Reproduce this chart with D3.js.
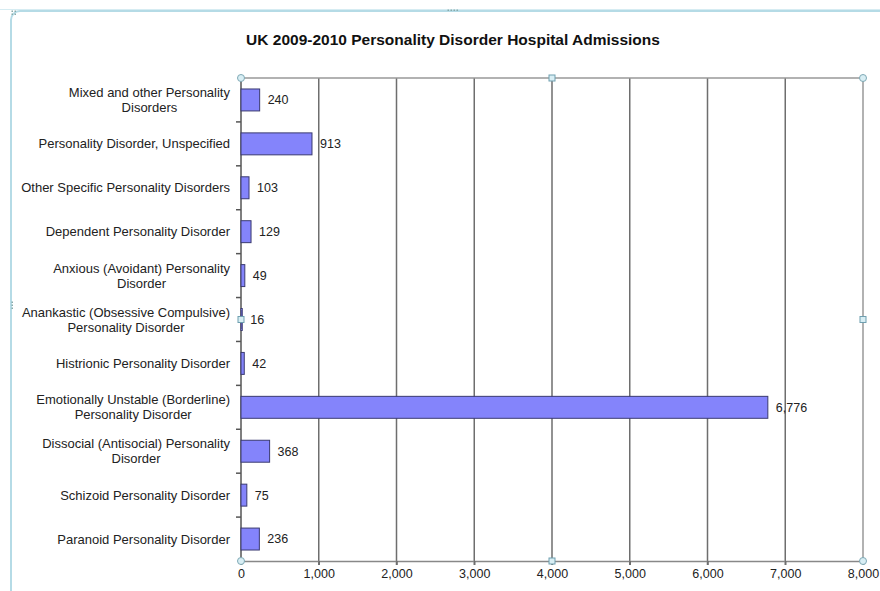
<!DOCTYPE html>
<html>
<head>
<meta charset="utf-8">
<style>
  body { margin: 0; background: #fff; }
  text { font-family: "Liberation Sans", Arial, sans-serif; fill: #222; }
</style>
</head>
<body>
<script src="https://d3js.org/d3.v7.min.js"></script>
<script>
  // data, top to bottom
  const categories = [
    ['Mixed and other Personality', 'Disorders'],
    ['Personality Disorder, Unspecified'],
    ['Other Specific Personality Disorders'],
    ['Dependent Personality Disorder'],
    ['Anxious (Avoidant) Personality', 'Disorder'],
    ['Anankastic (Obsessive Compulsive)', 'Personality Disorder'],
    ['Histrionic Personality Disorder'],
    ['Emotionally Unstable (Borderline)', 'Personality Disorder'],
    ['Dissocial (Antisocial) Personality', 'Disorder'],
    ['Schizoid Personality Disorder'],
    ['Paranoid Personality Disorder']
  ]
  const admissions = [240, 913, 103, 129, 49, 16, 42, 6776, 368, 75, 236]
  const xTicks = [0, 1000, 2000, 3000, 4000, 5000, 6000, 7000, 8000]
  const title = 'UK 2009-2010 Personality Disorder Hospital Admissions'

  const width = 880
  const height = 591
  const plot = { left: 241, right: 863, top: 78, bottom: 561 }

  const svg = d3.select('body').append('svg')
    .attr('width', width)
    .attr('height', height)

  // selection frame around the chart
  svg.append('rect')
    .attr('x', 11).attr('y', 11)
    .attr('width', 900).attr('height', 620)
    .attr('rx', 9)
    .attr('fill', 'none')
    .attr('stroke', '#b5dbe6')
    .attr('stroke-width', 2)
  svg.append('line')
    .attr('x1', 0).attr('x2', width).attr('y1', 9.5).attr('y2', 9.5)
    .attr('stroke', '#d6ecf2')

  const dots = [[12, 11], [15, 11], [12, 14], [15, 14], [448, 10], [451, 10], [454, 10], [457, 10], [12, 302], [12, 305], [12, 308]]
  svg.selectAll('.grip').data(dots).enter().append('rect')
    .attr('x', d => d[0] - 0.5).attr('y', d => d[1] - 0.5)
    .attr('width', 1.5).attr('height', 1.5)
    .attr('fill', '#8aa')

  svg.append('text')
    .attr('x', 453).attr('y', 45)
    .attr('text-anchor', 'middle')
    .attr('font-size', '15.5px')
    .attr('font-weight', 'bold')
    .style('fill', '#111')
    .text(title)

  const x = d3.scaleLinear()
    .domain([0, 8000])
    .range([plot.left, plot.right])

  const y = d3.scaleBand()
    .domain(d3.range(categories.length))
    .range([plot.top, plot.bottom])
    .paddingInner(0.5)
    .paddingOuter(0.25)

  const bandStep = (plot.bottom - plot.top) / categories.length

  // vertical grid lines
  svg.append('g').selectAll('line')
    .data(xTicks.slice(1, -1)).enter().append('line')
    .attr('x1', d => x(d)).attr('x2', d => x(d))
    .attr('y1', plot.top).attr('y2', plot.bottom + 4)
    .attr('stroke', '#6e6e6e')
    .attr('stroke-width', 1.5)

  // frame lines
  svg.append('line')
    .attr('x1', plot.left).attr('x2', plot.right)
    .attr('y1', plot.top).attr('y2', plot.top)
    .attr('stroke', '#999').attr('stroke-width', 1.5)
  svg.append('line')
    .attr('x1', plot.right).attr('x2', plot.right)
    .attr('y1', plot.top).attr('y2', plot.bottom)
    .attr('stroke', '#999').attr('stroke-width', 1.5)

  // x axis
  const xAxis = svg.append('g')
    .attr('transform', `translate(0, ${plot.bottom})`)
    .call(d3.axisBottom(x).tickValues(xTicks).tickFormat(d3.format(',')).tickSize(4).tickPadding(4))
  xAxis.select('.domain').attr('stroke', '#888').attr('stroke-width', 1.5)
  xAxis.selectAll('.tick line').attr('stroke', '#6e6e6e').attr('stroke-width', 1.5)
  xAxis.selectAll('.tick text')
    .attr('font-family', '"Liberation Sans", Arial, sans-serif')
    .attr('font-size', '12.5px')
    .style('fill', '#222')

  // y axis line and ticks between categories
  svg.append('line')
    .attr('x1', plot.left).attr('x2', plot.left)
    .attr('y1', plot.top).attr('y2', plot.bottom)
    .attr('stroke', '#555').attr('stroke-width', 1.5)
  svg.append('g').selectAll('line')
    .data(d3.range(1, categories.length)).enter().append('line')
    .attr('x1', plot.left - 5).attr('x2', plot.left)
    .attr('y1', i => plot.top + i * bandStep)
    .attr('y2', i => plot.top + i * bandStep)
    .attr('stroke', '#555').attr('stroke-width', 1.5)

  // bars
  svg.append('g').selectAll('rect')
    .data(admissions).enter().append('rect')
    .attr('x', x(0))
    .attr('y', (d, i) => y(i))
    .attr('width', d => x(d) - x(0))
    .attr('height', y.bandwidth())
    .attr('fill', '#8484fb')
    .attr('stroke', '#3a3a70')
    .attr('stroke-width', 1)

  // value labels
  svg.append('g').selectAll('text')
    .data(admissions).enter().append('text')
    .attr('x', d => x(d) + 8)
    .attr('y', (d, i) => y(i) + y.bandwidth() / 2)
    .attr('dy', '0.35em')
    .attr('font-size', '12.5px')
    .text(d3.format(','))

  // category labels, block right-aligned, lines centred
  const labelRight = 230
  categories.forEach((lines, i) => {
    const cy = y(i) + y.bandwidth() / 2
    const t = svg.append('text')
      .attr('font-size', '13px')
      .attr('text-anchor', 'middle')
    lines.forEach((ln, j) => {
      t.append('tspan').attr('x', 0)
        .attr('y', cy + (j - (lines.length - 1) / 2) * 15)
        .attr('dy', '0.35em')
        .text(ln)
    })
    const w = d3.max(t.selectAll('tspan').nodes(), n => n.getComputedTextLength())
    t.selectAll('tspan').attr('x', labelRight - w / 2)
  })

  // selection handles
  const corners = [[plot.left, plot.top], [plot.right, plot.top], [plot.left, plot.bottom], [plot.right, plot.bottom]]
  svg.selectAll('.corner').data(corners).enter().append('circle')
    .attr('cx', d => d[0]).attr('cy', d => d[1]).attr('r', 3.5)
    .attr('fill', '#d8eef4').attr('stroke', '#7fa9b5')
  const mids = [[(plot.left + plot.right) / 2, plot.top], [(plot.left + plot.right) / 2, plot.bottom],
    [plot.left, (plot.top + plot.bottom) / 2], [plot.right, (plot.top + plot.bottom) / 2]]
  svg.selectAll('.mid').data(mids).enter().append('rect')
    .attr('x', d => d[0] - 3).attr('y', d => d[1] - 3)
    .attr('width', 6).attr('height', 6)
    .attr('fill', '#d8eef4').attr('stroke', '#6f9fb0')
</script>
</body>
</html>
